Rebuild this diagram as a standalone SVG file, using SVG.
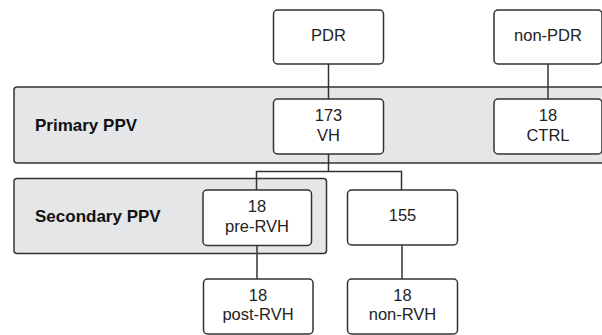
<svg xmlns="http://www.w3.org/2000/svg" width="602" height="335" viewBox="0 0 602 335">
<style>
.band{fill:#e5e6e8;stroke:#333;stroke-width:1.5}
.box{fill:#fff;stroke:#333;stroke-width:1.5}
.t{font-family:"Liberation Sans",Arial,sans-serif;font-size:16.5px;fill:#222;text-anchor:middle}
.b{font-family:"Liberation Sans",Arial,sans-serif;font-size:17px;font-weight:bold;fill:#111}
.c{fill:none;stroke:#333;stroke-width:1.5}
</style>
<rect x="0" y="0" width="602" height="335" fill="#fff"/>
<g id="band-primary">
<rect class="band" x="14" y="87" width="600" height="76" rx="3"/>
<text class="b" x="35" y="131">Primary PPV</text>
</g>
<g id="band-secondary">
<rect class="band" x="14" y="178.5" width="312.5" height="75" rx="3"/>
<text class="b" x="35" y="222">Secondary PPV</text>
</g>
<g id="connectors">
<path class="c" d="M328.5 64V99"/>
<path class="c" d="M548 64V99"/>
<path class="c" d="M328.5 154V171.5M256.5 190V171.5H401.5V190"/>
<path class="c" d="M257 245.5V279"/>
<path class="c" d="M402 245V279"/>
</g>
<g id="PDR">
<rect class="box" x="273.5" y="10" width="110" height="54" rx="4"/>
<text class="t" x="328.5" y="40.5">PDR</text>
</g>
<g id="nonPDR">
<rect class="box" x="494" y="10" width="108" height="54" rx="4"/>
<text class="t" x="548" y="40.5">non-PDR</text>
</g>
<g id="VH">
<rect class="box" x="273.5" y="99" width="110" height="55" rx="4"/>
<text class="t" x="328.5" y="120.5">173</text>
<text class="t" x="328.5" y="140.5">VH</text>
</g>
<g id="CTRL">
<rect class="box" x="494" y="99" width="108" height="55" rx="4"/>
<text class="t" x="548" y="120.5">18</text>
<text class="t" x="548" y="140.5">CTRL</text>
</g>
<g id="preRVH">
<rect class="box" x="203" y="190" width="108.5" height="55.5" rx="4"/>
<text class="t" x="257" y="211.5">18</text>
<text class="t" x="257" y="231.5">pre-RVH</text>
</g>
<g id="n155">
<rect class="box" x="347.5" y="190" width="110" height="55" rx="4"/>
<text class="t" x="402.5" y="221">155</text>
</g>
<g id="postRVH">
<rect class="box" x="203.5" y="279" width="109.5" height="55" rx="4"/>
<text class="t" x="258" y="300.5">18</text>
<text class="t" x="258" y="320">post-RVH</text>
</g>
<g id="nonRVH">
<rect class="box" x="347.5" y="279" width="110" height="55" rx="4"/>
<text class="t" x="402.5" y="300.5">18</text>
<text class="t" x="402.5" y="320">non-RVH</text>
</g>
</svg>
